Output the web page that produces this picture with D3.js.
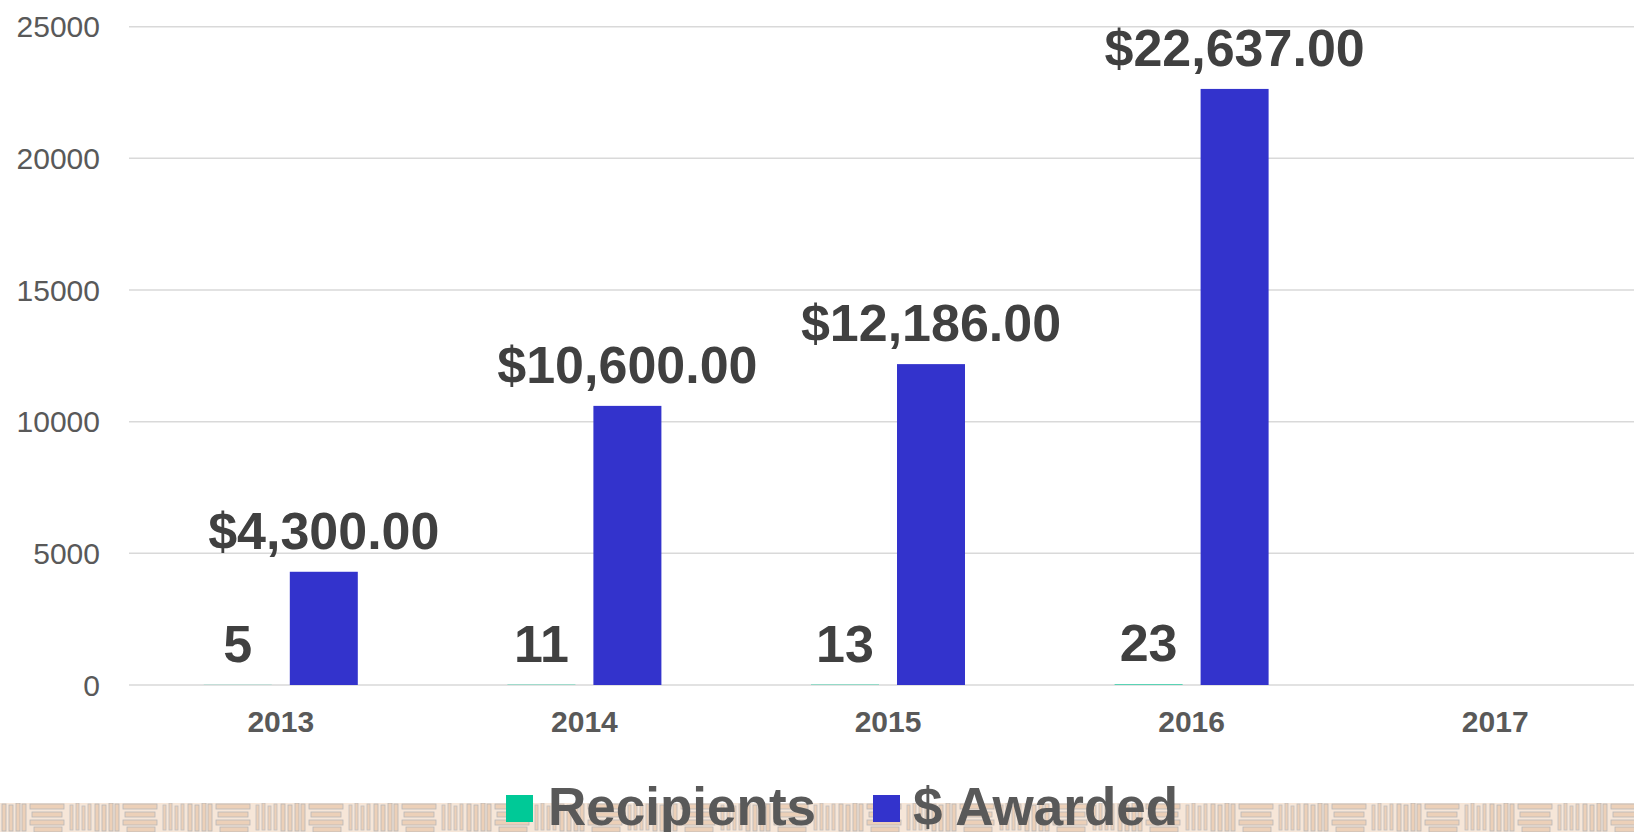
<!DOCTYPE html>
<html>
<head>
<meta charset="utf-8">
<script src="https://cdnjs.cloudflare.com/ajax/libs/d3/7.8.5/d3.min.js"></script>
<style>
html, body { margin: 0; padding: 0; background: #ffffff; overflow: hidden; }
svg { display: block; font-family: "Liberation Sans", Arial, sans-serif; }
</style>
</head>
<body>
<svg id="chart" width="1634" height="832"></svg>
<script>
const years = ["2013", "2014", "2015", "2016", "2017"];
const recipients = [5, 11, 13, 23, null];
const awarded = [4300, 10600, 12186, 22637, null];
const yTicks = [0, 5000, 10000, 15000, 20000, 25000];
const seriesNames = ["Recipients", "$ Awarded"];
const seriesColors = ["#00c997", "#3333cc"];

const W = 1634, H = 832;
const svg = d3.select("#chart");

// Decorative band pattern at bottom
const defs = svg.append("defs");
const pat = defs.append("pattern").attr("id", "band").attr("patternUnits", "userSpaceOnUse")
  .attr("x", 0).attr("y", 803).attr("width", 93).attr("height", 29);
pat.append("rect").attr("width", 93).attr("height", 29).attr("fill", "#f6e6d8");
[[2,1],[9,2],[16,0],[22,1]].forEach(([vx, vy]) => {
  pat.append("rect").attr("x", vx).attr("y", vy).attr("width", 4).attr("height", 28 - vy)
    .attr("fill", "#ecd0b8").attr("stroke", "#b8b8b8").attr("stroke-width", 0.8);
});
[[30,1,34],[32,9,30],[30,17,34],[34,24,28]].forEach(([hx, hy, hw]) => {
  pat.append("rect").attr("x", hx).attr("y", hy).attr("width", hw).attr("height", 5)
    .attr("fill", "#ecd0b8").attr("stroke", "#b8b8b8").attr("stroke-width", 0.8);
});
[[70,2],[76,0],[82,3],[88,1]].forEach(([vx, vy]) => {
  pat.append("rect").attr("x", vx).attr("y", vy).attr("width", 3).attr("height", 27 - vy)
    .attr("fill", "#ecd0b8").attr("stroke", "#c0c0c0").attr("stroke-width", 0.8);
});
svg.append("rect").attr("x", 0).attr("y", 803).attr("width", W).attr("height", 29)
  .attr("fill", "url(#band)");

const x0 = d3.scaleBand().domain(years).range([129, 1647]).padding(0);
const x1 = d3.scaleBand().domain(seriesNames).range([0, 154]).paddingInner(18 / 86).paddingOuter(0);
const y = d3.scaleLinear().domain([0, 25000]).range([685, 26.7]);

// gridlines
svg.append("g").selectAll("line").data(yTicks).join("line")
  .attr("x1", 129).attr("x2", W)
  .attr("y1", d => y(d)).attr("y2", d => y(d))
  .attr("stroke", "#d9d9d9").attr("stroke-width", 1.5);

// y axis labels
const yAxis = d3.axisLeft(y).tickValues(yTicks).tickSize(0).tickPadding(0).tickFormat(d3.format("d"));
const yg = svg.append("g").attr("transform", "translate(100,0)").call(yAxis);
yg.select(".domain").remove();
yg.selectAll("text").attr("font-size", 30).attr("fill", "#595959")
  .attr("font-family", "'Liberation Sans', Arial, sans-serif").attr("dy", "0.34em");

// x axis labels
const xAxis = d3.axisBottom(x0).tickSize(0).tickPadding(0);
const xg = svg.append("g").attr("transform", "translate(0,685)").call(xAxis);
xg.select(".domain").remove();
xg.selectAll("text").attr("font-size", 30).attr("font-weight", "bold").attr("fill", "#595959")
  .attr("font-family", "'Liberation Sans', Arial, sans-serif").attr("dy", null).attr("y", 47);

// bars
const rows = years.map((yr, i) => ({ year: yr, vals: [recipients[i], awarded[i]] }));
const groups = svg.append("g").selectAll("g").data(rows).join("g")
  .attr("transform", d => `translate(${x0(d.year) + x0.bandwidth() / 2 - 77},0)`);

groups.selectAll("rect").data(d => d.vals.map((v, k) => ({ v, k })).filter(e => e.v != null)).join("rect")
  .attr("x", e => x1(seriesNames[e.k]))
  .attr("width", x1.bandwidth())
  .attr("y", e => y(e.v))
  .attr("height", e => y(0) - y(e.v))
  .attr("fill", e => seriesColors[e.k]);

const fmtMoney = d3.format(",.2f");
groups.selectAll("text.lbl").data(d => d.vals.map((v, k) => ({ v, k })).filter(e => e.v != null)).join("text")
  .attr("class", "lbl")
  .attr("x", e => x1(seriesNames[e.k]) + x1.bandwidth() / 2)
  .attr("y", e => y(e.v) - 23)
  .attr("text-anchor", "middle")
  .attr("font-size", 52).attr("font-weight", "bold").attr("fill", "#404040")
  .text(e => e.k === 1 ? "$" + fmtMoney(e.v) : String(e.v));

// legend
const legendX = [506, 873];
const lg = svg.append("g").selectAll("g").data(seriesNames).join("g")
  .attr("transform", (d, i) => `translate(${legendX[i]},795)`);
lg.append("rect").attr("width", 27).attr("height", 27).attr("fill", (d, i) => seriesColors[i]);
lg.append("text").attr("x", (d, i) => i === 0 ? 42 : 40).attr("y", 30)
  .attr("font-size", 53).attr("font-weight", "bold").attr("fill", "#595959")
  .text(d => d);
</script>
</body>
</html>
